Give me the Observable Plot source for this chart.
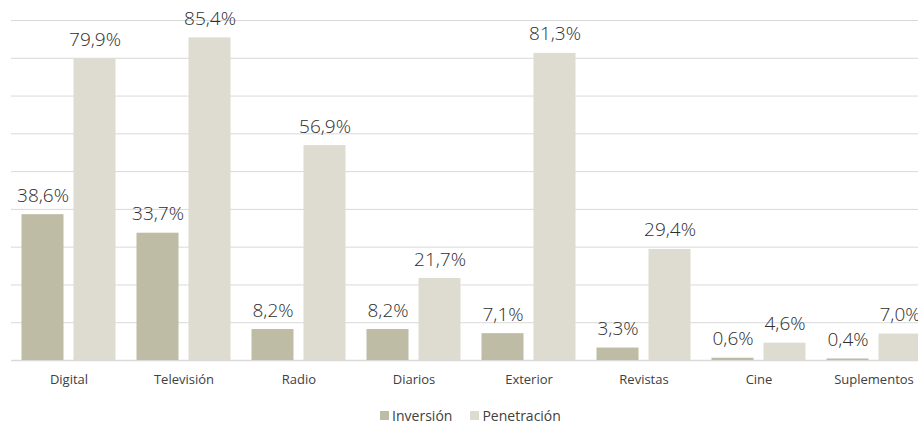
<!DOCTYPE html>
<html>
<head>
<meta charset="utf-8">
<script src="https://cdn.jsdelivr.net/npm/d3@7"></script>
<script src="https://cdn.jsdelivr.net/npm/@observablehq/plot@0.6"></script>
<style>
  html, body { margin: 0; padding: 0; background: #fff; overflow: hidden; }
  #clip { width: 918px; height: 424px; overflow: hidden; }
  #inner { width: 941px; }
  #legend { display: flex; justify-content: center; align-items: center; gap: 18px;
    font-family: "Open Sans", sans-serif; font-size: 14px; color: #404040; height: 29px; padding-top: 6px; }
  #legend .item { display: flex; align-items: center; gap: 3px; }
  #legend .sw { width: 9px; height: 9px; display: inline-block; }
</style>
</head>
<body>
<div id="clip"><div id="inner"><div id="chart"></div><div id="legend"></div></div></div>
<script>
const categories = ["Digital", "Televisión", "Radio", "Diarios", "Exterior", "Revistas", "Cine", "Suplementos"];
const inversion = [38.6, 33.7, 8.2, 8.2, 7.1, 3.3, 0.6, 0.4];
const penetracion = [79.9, 85.4, 56.9, 21.7, 81.3, 29.4, 4.6, 7.0];
const series = ["Inversión", "Penetración"];
const colors = ["#bebca5", "#dedcd1"];
const yTicks = [10, 20, 30, 40, 50, 60, 70, 80, 90];

const data = [];
categories.forEach((c, i) => {
  data.push({category: c, series: series[0], value: inversion[i]});
  data.push({category: c, series: series[1], value: penetracion[i]});
});
const fmt = v => v.toFixed(1).replace(".", ",") + "%";

const plot = Plot.plot({
  width: 941,
  height: 395,
  marginLeft: 10.5,
  marginRight: 10.5,
  marginTop: 20,
  marginBottom: 35,
  style: {fontFamily: "Open Sans, sans-serif", color: "#404040", background: "white"},
  fx: {domain: categories, padding: 0, label: null},
  x: {domain: series, paddingInner: 0.2, paddingOuter: 0.19, axis: null},
  y: {domain: [0, 90], axis: null},
  color: {domain: series, range: colors},
  marks: [
    Plot.ruleY(yTicks, {stroke: "#d9d9d9", strokeWidth: 1}),
    Plot.ruleY([0], {stroke: "#d9d9d9", strokeWidth: 1.5}),
    Plot.barY(data, {fx: "category", x: "series", y: "value", fill: "series"}),
    Plot.text(data, {fx: "category", x: "series", y: "value", text: d => fmt(d.value),
      lineAnchor: "bottom", dy: -13, fontSize: 19, fontWeight: 300, fill: "#2e2e2e"}),
    Plot.axisFx({anchor: "bottom", tickSize: 0, tickPadding: 14, fontSize: 13, label: null, fill: "#404040"})
  ]
});
document.getElementById("chart").appendChild(plot);

const legend = document.getElementById("legend");
series.forEach((s, i) => {
  const item = document.createElement("span");
  item.className = "item";
  const sw = document.createElement("span");
  sw.className = "sw";
  sw.style.background = colors[i];
  const t = document.createElement("span");
  t.textContent = s;
  item.appendChild(sw);
  item.appendChild(t);
  legend.appendChild(item);
});
</script>
</body>
</html>
